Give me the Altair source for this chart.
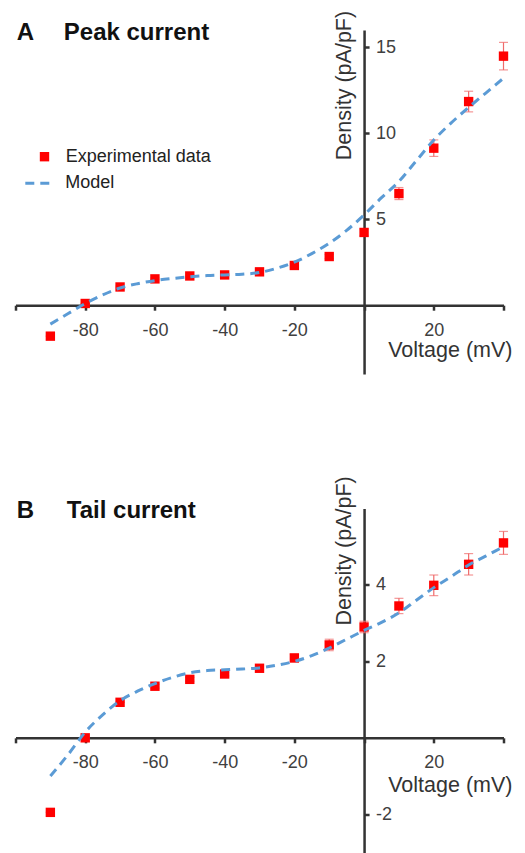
import altair as alt
import pandas as pd

# ---------------- data ----------------
voltage = [-90, -80, -70, -60, -50, -40, -30, -20, -10, 0, 10, 20, 30, 40]

peak_density = [-1.8, 0.1, 1.06, 1.53, 1.70, 1.76, 1.94, 2.31, 2.83, 4.23, 6.49, 9.13, 11.84, 14.48]
peak_err = [0.0, 0.0, 0.05, 0.05, 0.05, 0.05, 0.08, 0.1, 0.12, 0.2, 0.35, 0.48, 0.6, 0.8]

tail_density = [-1.95, 0.0, 0.93, 1.35, 1.53, 1.67, 1.82, 2.09, 2.43, 2.90, 3.45, 3.99, 4.54, 5.10]
tail_err = [0.0, 0.0, 0.0, 0.05, 0.05, 0.05, 0.08, 0.1, 0.15, 0.15, 0.2, 0.27, 0.28, 0.3]

model_voltage = [-90, -85, -80, -75, -70, -65, -60, -55, -50, -45, -40, -35, -30,
                 -25, -20, -15, -10, -5, 0, 5, 10, 15, 20, 25, 30, 35, 40]
peak_model = [-1.1, -0.5, 0.1, 0.6, 1.0, 1.25, 1.43, 1.55, 1.65, 1.72, 1.76, 1.8, 1.9,
              2.15, 2.5, 3.0, 3.6, 4.35, 5.25, 6.25, 7.2, 8.4, 9.6, 10.6, 11.5, 12.35, 13.2]
tail_model = [-1.0, -0.45, 0.15, 0.6, 0.97, 1.22, 1.42, 1.58, 1.70, 1.76, 1.78, 1.80, 1.83,
              1.9, 2.0, 2.15, 2.35, 2.58, 2.81, 3.02, 3.27, 3.6, 3.93, 4.22, 4.52, 4.76, 5.0]

x_ticks = [-100, -80, -60, -40, -20, 0, 20, 40]
peak_y_ticks = [5, 10, 15]
tail_y_ticks = [-2, 2, 4]

series_names = ["Experimental data", "Model"]

# ---------------- styling ----------------
W, H = 488, 344
X_DOMAIN = [-100, 40]
FONT = "Liberation Sans"
AXIS_COLOR = "#333333"
LABEL_COLOR = "#404040"
RED = "#ff0000"
ERR_RED = "#f06a6a"
BLUE = "#5b9bd5"


def panel(letter, name, name_dx, title_dy, dens, err, model, y_domain, y_ticks,
          density_title_y, voltage_title_y, show_legend):
    pts = pd.DataFrame({
        "Voltage": voltage,
        "Density": dens,
        "lo": [d - e for d, e in zip(dens, err)],
        "hi": [d + e for d, e in zip(dens, err)],
        "series": series_names[0],
    })
    caps = pd.concat([
        pd.DataFrame({"Voltage": voltage, "cap": [d - e for d, e in zip(dens, err)]}),
        pd.DataFrame({"Voltage": voltage, "cap": [d + e for d, e in zip(dens, err)]}),
    ])
    mdl = pd.DataFrame({"Voltage": model_voltage, "Density": model, "series": series_names[1]})
    ttl = pd.DataFrame({"letter": [letter], "name": [name]})

    x_zero_offset = -(0 - X_DOMAIN[0]) / (X_DOMAIN[1] - X_DOMAIN[0]) * W
    y_axis_offset = -(W + x_zero_offset)
    x_axis_offset = -(0 - y_domain[0]) / (y_domain[1] - y_domain[0]) * H

    xscale = alt.Scale(domain=X_DOMAIN, nice=False, zero=False)
    yscale = alt.Scale(domain=y_domain, nice=False, zero=False)

    x_axis = alt.Axis(
        orient="bottom", offset=x_axis_offset, values=x_ticks, grid=False,
        labelExpr="(datum.value == -100 || datum.value == 0 || datum.value == 40) ? '' : toString(datum.value)",
        labelOverlap=False, labelFlush=False,
        domainColor=AXIS_COLOR, domainWidth=2.5, tickColor=AXIS_COLOR, tickWidth=2.5, tickSize=5,
        labelFont=FONT, labelFontSize=18, labelColor=LABEL_COLOR, labelBaseline="middle",
        labelPadding=20,
        title="Voltage (mV)", titleFont=FONT, titleFontSize=21.5, titleFontWeight="normal",
        titleColor=AXIS_COLOR, titleAlign="right", titleBaseline="alphabetic",
        titleX=496.5, titleY=voltage_title_y, titleAngle=0,
    )
    y_axis = alt.Axis(
        orient="right", offset=y_axis_offset, values=y_ticks, grid=False,
        labelExpr="toString(datum.value)", labelOverlap=False, labelFlush=False,
        domainColor=AXIS_COLOR, domainWidth=2.5, tickColor=AXIS_COLOR, tickWidth=2.5, tickSize=5,
        labelFont=FONT, labelFontSize=18, labelColor=LABEL_COLOR, labelBaseline="middle",
        labelAlign="left", labelPadding=6.5,
        title="Density (pA/pF)", titleFont=FONT, titleFontSize=21.5, titleFontWeight="normal",
        titleColor=AXIS_COLOR, titleAngle=270, titleAlign="left", titleBaseline="alphabetic",
        titleX=-14, titleY=density_title_y,
    )

    err_rule = alt.Chart(pts).mark_rule(color=ERR_RED, strokeWidth=1.2).encode(
        x=alt.X("Voltage:Q", scale=xscale, axis=x_axis),
        y=alt.Y("lo:Q", scale=yscale, axis=y_axis),
        y2="hi:Q",
    )
    err_caps = alt.Chart(caps).mark_tick(orient="horizontal", color=ERR_RED, size=9, thickness=1.2).encode(
        x=alt.X("Voltage:Q", scale=xscale),
        y=alt.Y("cap:Q", scale=yscale),
    )

    if show_legend:
        pt_color = alt.Color(
            "series:N",
            scale=alt.Scale(domain=[series_names[0]], range=[RED]),
            legend=alt.Legend(
                orient="none", legendX=20.0, legendY=117.7, title=None, padding=0,
                symbolType="square", symbolSize=88, symbolOpacity=1, symbolStrokeWidth=0,
                labelFont=FONT, labelFontSize=18, labelColor="#222222", labelOffset=12.3,
            ),
        )
        line_dash = alt.StrokeDash(
            "series:N",
            scale=alt.Scale(domain=[series_names[1]], range=[[9, 6]]),
            legend=alt.Legend(
                orient="none", legendX=8.3, legendY=136.7, title=None, padding=0,
                symbolType="stroke", symbolSize=900, symbolStrokeWidth=3,
                symbolStrokeColor=BLUE,
                labelFont=FONT, labelFontSize=18, labelColor="#222222", labelOffset=8.4,
            ),
        )
    else:
        pt_color = alt.Color("series:N", scale=alt.Scale(domain=[series_names[0]], range=[RED]), legend=None)
        line_dash = alt.StrokeDash("series:N", scale=alt.Scale(domain=[series_names[1]], range=[[9, 6]]), legend=None)

    points = alt.Chart(pts).mark_square(size=88, opacity=1).encode(
        x=alt.X("Voltage:Q", scale=xscale),
        y=alt.Y("Density:Q", scale=yscale),
        color=pt_color,
    )
    line = alt.Chart(mdl).mark_line(color=BLUE, strokeWidth=3, interpolate="monotone").encode(
        x=alt.X("Voltage:Q", scale=xscale),
        y=alt.Y("Density:Q", scale=yscale),
        strokeDash=line_dash,
    )
    letter_txt = alt.Chart(ttl).mark_text(
        align="left", baseline="alphabetic", font=FONT, fontSize=24, fontWeight="bold", color="#111111"
    ).encode(x=alt.value(1.3), y=alt.value(title_dy), text="letter:N")
    name_txt = alt.Chart(ttl).mark_text(
        align="left", baseline="alphabetic", font=FONT, fontSize=24, fontWeight="bold", color="#111111"
    ).encode(x=alt.value(name_dx), y=alt.value(title_dy), text="name:N")

    return alt.layer(err_rule, err_caps, points, line, letter_txt, name_txt).resolve_scale(
        color="independent", strokeDash="independent"
    ).properties(width=W, height=H)


panel_a = panel("A", "Peak current", 48.3, 9.7, peak_density, peak_err, peak_model,
                [-4, 16], peak_y_ticks, 129.7, 51.0, True)
panel_b = panel("B", "Tail current", 51.3, 9.0, tail_density, tail_err, tail_model,
                [-3, 6], tail_y_ticks, 116.6, 53.5, False)

chart = alt.vconcat(panel_a, panel_b, spacing=101.5).properties(
    padding={"left": 5.5, "top": 2, "right": 0, "bottom": 0},
    background="white",
).configure_view(stroke=None)

chart.save("out.html", embed_options={"renderer": "svg", "actions": False})
